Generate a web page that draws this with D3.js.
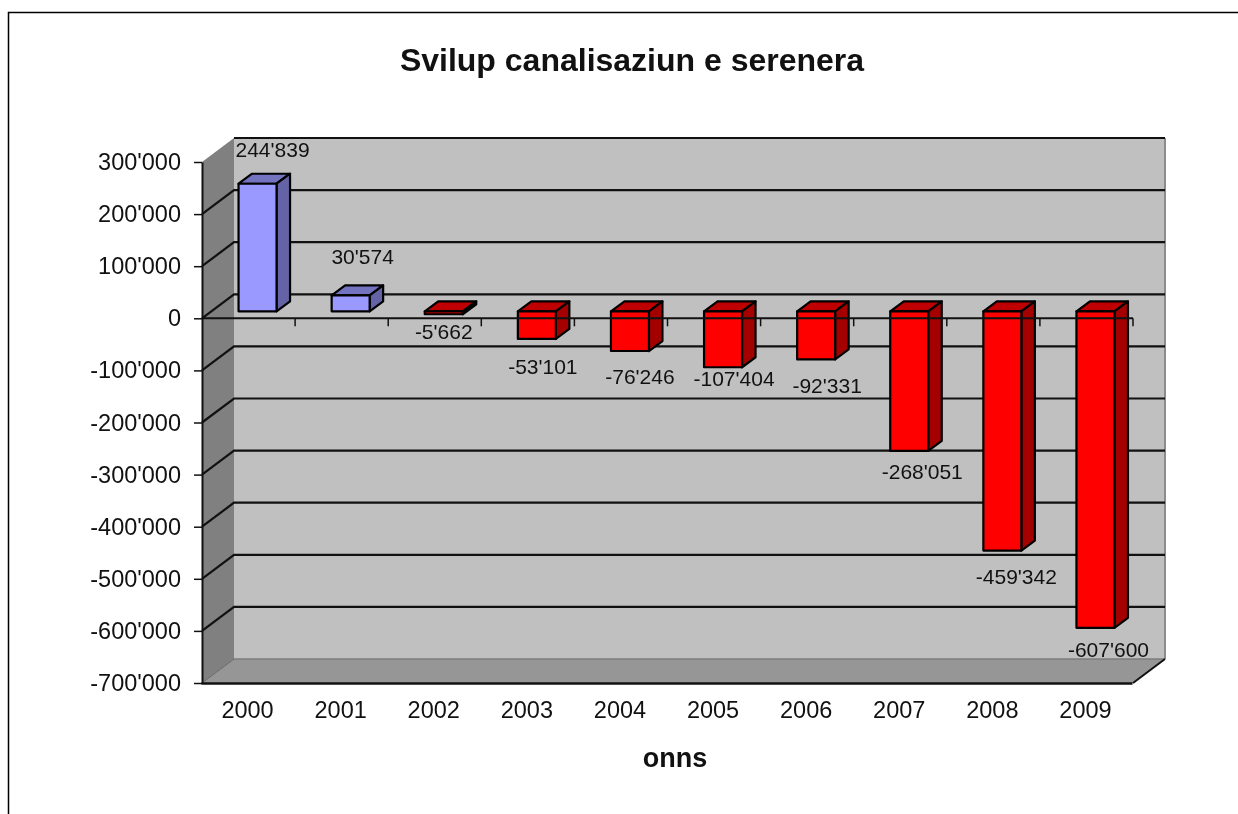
<!DOCTYPE html>
<html>
<head>
<meta charset="utf-8">
<script src="https://cdn.jsdelivr.net/npm/d3@7"></script>
<style>
html, body { margin: 0; padding: 0; background: #fff; overflow: hidden; }
svg { display: block; filter: blur(0.45px); }
text { font-family: "Liberation Sans", Arial, sans-serif; fill: #111; }
</style>
</head>
<body>
<div id="chart"></div>
<script>
const years = ["2000", "2001", "2002", "2003", "2004", "2005", "2006", "2007", "2008", "2009"];
const values = [244839, 30574, -5662, -53101, -76246, -107404, -92331, -268051, -459342, -607600];
const yTicks = [300000, 200000, 100000, 0, -100000, -200000, -300000, -400000, -500000, -600000, -700000];

// hand placed labels in the original, offsets from the bar end
const labelDx = [15, 12, 0, 6, 10, 11, 11, 13, 14, 13];
const labelDy = [-34, -39, 17, 28, 26, 11, 26, 21, 26, 22];

const width = 1238, height = 814;
const front = { left: 202, right: 1133, top: 162, bottom: 683 };
const wall = { dx: 32, dy: -24 };      // depth of the whole box
const barShift = { dx: 9, dy: -7 };    // bars stand a bit behind the front plane
const barDepth = { dx: 13.5, dy: -10 };

const fmt = d3.formatLocale({ decimal: ".", thousands: "'", grouping: [3], currency: ["", ""], minus: "-" }).format(",");

const svg = d3.select("#chart").append("svg")
    .attr("width", width)
    .attr("height", height);

const x = d3.scaleBand().domain(years).range([front.left, front.right]);
const y = d3.scaleLinear().domain([-700000, 300000]).range([front.bottom, front.top]);

const poly = pts => pts.map(p => p.join(",")).join(" ");

// outer chart frame, cut by the right and bottom of the picture
svg.append("path")
    .attr("d", `M8.5,${height} V12.5 H${width}`)
    .attr("fill", "none")
    .attr("stroke", "#000")
    .attr("stroke-width", 1.5);

// box: back wall, left wall, floor
const backLeft = front.left + wall.dx, backRight = front.right + wall.dx;
const backTop = front.top + wall.dy, backBottom = front.bottom + wall.dy;

svg.append("rect")
    .attr("x", backLeft).attr("y", backTop)
    .attr("width", backRight - backLeft).attr("height", backBottom - backTop)
    .attr("fill", "#c0c0c0");

svg.append("polygon")
    .attr("points", poly([[front.left, front.top], [backLeft, backTop], [backLeft, backBottom], [front.left, front.bottom]]))
    .attr("fill", "#808080");

svg.append("polygon")
    .attr("points", poly([[front.left, front.bottom], [backLeft, backBottom], [backRight, backBottom], [front.right, front.bottom]]))
    .attr("fill", "#969696");

svg.append("path")
    .attr("d", `M${backRight},${backTop} V${backBottom}`)
    .attr("stroke", "#8c8c8c").attr("stroke-width", 2).attr("fill", "none");

svg.append("path")
    .attr("d", `M${backLeft},${backBottom} H${backRight}`)
    .attr("stroke", "#7c7c7c").attr("stroke-width", 1.5).attr("fill", "none");

svg.append("path")
    .attr("d", `M${front.left},${front.bottom} L${backLeft},${backBottom}`)
    .attr("stroke", "#666").attr("stroke-width", 1).attr("fill", "none");

// gridlines, on the left wall and across the back (the top one has no diagonal)
svg.append("g").selectAll("path")
    .data(yTicks.filter(d => d !== -700000))
    .enter()
    .append("path")
    .attr("d", d => d === 300000
        ? `M${backLeft},${y(d) + wall.dy} H${backRight}`
        : `M${front.left},${y(d)} L${backLeft},${y(d) + wall.dy} H${backRight}`)
    .attr("fill", "none")
    .attr("stroke", "#111")
    .attr("stroke-width", 2.2);

// bars, each one is front + top + side
const bars = years.map((yr, i) => {
    const x0 = x(yr) + x.bandwidth() / 2 - 19 + barShift.dx;
    const x1 = x0 + 38;
    const yZero = y(0) + barShift.dy;
    const yVal = y(values[i]) + barShift.dy;
    return { yr, v: values[i], x0, x1, top: Math.min(yZero, yVal), bottom: Math.max(yZero, yVal), yVal };
});

const barG = svg.append("g")
    .selectAll("g")
    .data(bars)
    .enter()
    .append("g")
    .attr("stroke", "#000")
    .attr("stroke-width", 2.2)
    .attr("stroke-linejoin", "round");

barG.append("polygon")
    .attr("points", d => poly([[d.x0, d.top], [d.x0 + barDepth.dx, d.top + barDepth.dy], [d.x1 + barDepth.dx, d.top + barDepth.dy], [d.x1, d.top]]))
    .attr("fill", d => d.v >= 0 ? "#7373bf" : "#bf0000");

barG.append("polygon")
    .attr("points", d => poly([[d.x1, d.top], [d.x1 + barDepth.dx, d.top + barDepth.dy], [d.x1 + barDepth.dx, d.bottom + barDepth.dy], [d.x1, d.bottom]]))
    .attr("fill", d => d.v >= 0 ? "#6363a5" : "#a50000");

barG.append("rect")
    .attr("x", d => d.x0)
    .attr("y", d => d.top)
    .attr("width", d => d.x1 - d.x0)
    .attr("height", d => d.bottom - d.top)
    .attr("fill", d => d.v >= 0 ? "#9999ff" : "#ff0000");

// zero line with its tick marks at the band edges
svg.append("path")
    .attr("d", `M${front.left},${y(0)} H${front.right}`)
    .attr("stroke", "#111").attr("stroke-width", 2).attr("fill", "none");

svg.append("g").selectAll("path")
    .data(years)
    .enter()
    .append("path")
    .attr("d", d => `M${x(d) + x.step()},${y(0)} v8`)
    .attr("stroke", "#111").attr("stroke-width", 1.5).attr("fill", "none");

// axes
const yAxis = svg.append("g")
    .attr("transform", `translate(${front.left},0)`)
    .call(d3.axisLeft(y).tickValues(yTicks).tickFormat(fmt).tickSize(8).tickPadding(13).tickSizeOuter(0));
yAxis.select(".domain").attr("stroke", "#111").attr("stroke-width", 2);
yAxis.selectAll(".tick line").attr("stroke", "#111").attr("stroke-width", 1.5);
yAxis.selectAll("text").attr("font-size", 23.5).attr("font-family", null).attr("fill", "#111");

const xAxis = svg.append("g")
    .attr("transform", `translate(-1,${front.bottom})`)
    .call(d3.axisBottom(x).tickSize(0).tickPadding(18).tickSizeOuter(0));
xAxis.select(".domain").attr("stroke", "#111").attr("stroke-width", 2.5);
xAxis.selectAll("text").attr("font-size", 23.5).attr("font-family", null).attr("fill", "#111");

// front-right corner of the floor
svg.append("path")
    .attr("d", `M${front.right},${front.bottom} L${backRight},${backBottom}`)
    .attr("stroke", "#111").attr("stroke-width", 2).attr("fill", "none");

// data labels
svg.append("g").selectAll("text")
    .data(bars)
    .enter()
    .append("text")
    .attr("x", (d, i) => (d.x0 + d.x1) / 2 + labelDx[i])
    .attr("y", (d, i) => d.yVal + labelDy[i])
    .attr("dy", "0.35em")
    .attr("text-anchor", "middle")
    .attr("font-size", 21)
    .text(d => fmt(d.v));

// titles
svg.append("text")
    .attr("x", 632).attr("y", 71)
    .attr("text-anchor", "middle")
    .attr("font-size", 32)
    .attr("font-weight", "bold")
    .text("Svilup canalisaziun e serenera");

svg.append("text")
    .attr("x", 675).attr("y", 767)
    .attr("text-anchor", "middle")
    .attr("font-size", 27)
    .attr("font-weight", "bold")
    .text("onns");
</script>
</body>
</html>
